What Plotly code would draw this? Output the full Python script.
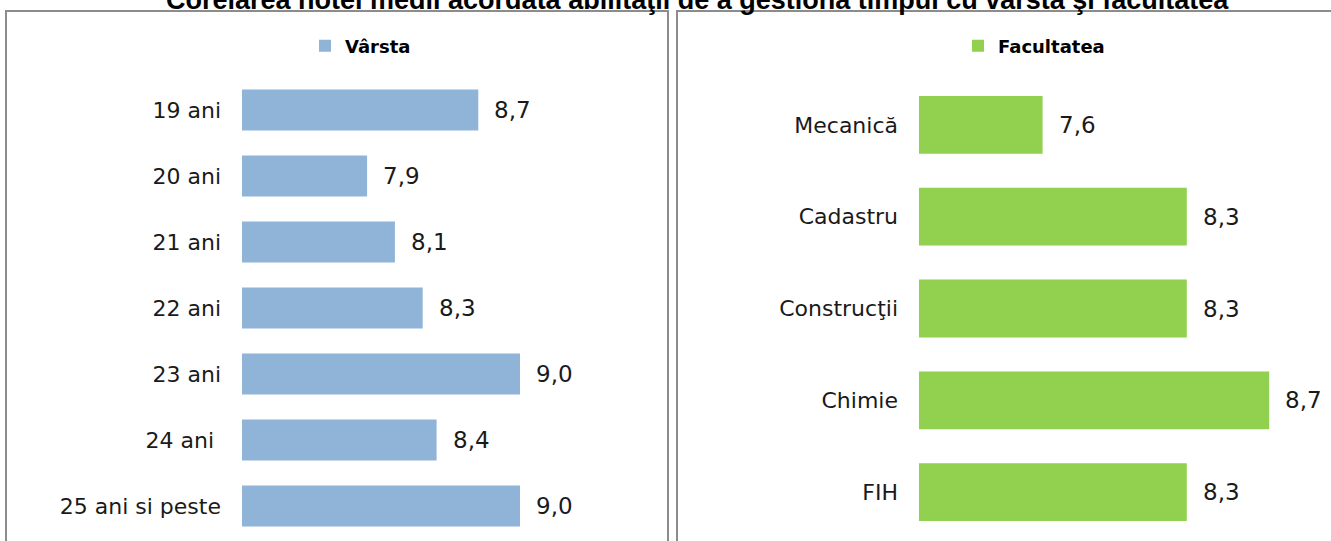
import plotly.graph_objects as go

# Data
age_labels = ["19 ani", "20 ani", "21 ani", "22 ani", "23 ani", "24 ani ", "25 ani si peste"]
age_values = [8.7, 7.9, 8.1, 8.3, 9.0, 8.4, 9.0]
fac_labels = ["Mecanică", "Cadastru", "Construcţii", "Chimie", "FIH"]
fac_values = [7.6, 8.3, 8.3, 8.7, 8.3]

title_text = "Corelarea notei medii acordată abilitaţii de a gestiona timpul cu vârsta şi facultatea"

W, H = 1331, 541
FONT = "DejaVu Sans"
BLUE = "#8FB4D8"
GREEN = "#92D050"

def px_x(p):
    return p / W

def px_y(p):
    return 1 - p / H

fig = go.Figure()

fig.add_trace(go.Bar(
    x=age_values, y=age_labels, orientation="h", name="Vârsta",
    marker=dict(color=BLUE, line=dict(width=0)), width=0.62,
    xaxis="x", yaxis="y", legend="legend", hoverinfo="x+y",
))
fig.add_trace(go.Bar(
    x=fac_values, y=fac_labels, orientation="h", name="Facultatea",
    marker=dict(color=GREEN, line=dict(width=0)), width=0.63,
    xaxis="x2", yaxis="y2", legend="legend2", hoverinfo="x+y",
))

annotations = []
for lab, v in zip(age_labels, age_values):
    annotations.append(dict(x=v, y=lab, xref="x", yref="y", text=f"{v:.1f}".replace(".", ","),
                            showarrow=False, xanchor="left", xshift=14,
                            font=dict(family=FONT, size=23, color="#1a1a1a")))
for lab, v in zip(fac_labels, fac_values):
    annotations.append(dict(x=v, y=lab, xref="x2", yref="y2", text=f"{v:.1f}".replace(".", ","),
                            showarrow=False, xanchor="left", xshift=14,
                            font=dict(family=FONT, size=23, color="#1a1a1a")))
annotations.append(dict(x=px_x(698), y=px_y(0), xref="paper", yref="paper", text=f"<b>{title_text}</b>",
                        showarrow=False, xanchor="center", yanchor="middle",
                        font=dict(family="Liberation Sans", size=27, color="#000000")))

shapes = [
    dict(type="rect", xref="paper", yref="paper", x0=px_x(6), x1=px_x(668), y0=px_y(560), y1=px_y(11),
         line=dict(color="#8C8C8C", width=2), fillcolor="rgba(0,0,0,0)", layer="below"),
    dict(type="rect", xref="paper", yref="paper", x0=px_x(677), x1=px_x(1345), y0=px_y(560), y1=px_y(11),
         line=dict(color="#8C8C8C", width=2), fillcolor="rgba(0,0,0,0)", layer="below"),
]

axis_common = dict(showgrid=False, zeroline=False, showline=False, showticklabels=False, ticks="")
ycommon = dict(showgrid=False, zeroline=False, showline=False, ticks="", autorange="reversed",
               tickfont=dict(family=FONT, size=22, color="#1a1a1a"), ticklabelstandoff=20)

fig.update_layout(
    width=W, height=H,
    margin=dict(l=0, r=0, t=0, b=0),
    paper_bgcolor="white", plot_bgcolor="white",
    showlegend=True,
    xaxis=dict(domain=[px_x(242), px_x(659)], range=[7, 10], anchor="y", **axis_common),
    yaxis=dict(domain=[px_y(539), px_y(77)], anchor="x", **ycommon),
    xaxis2=dict(domain=[px_x(919), px_x(1310.4)], range=[7, 8.9], anchor="y2", **axis_common),
    yaxis2=dict(domain=[px_y(538), px_y(79)], anchor="x2", **ycommon),
    legend=dict(x=px_x(305), y=px_y(46), xanchor="left", yanchor="middle", orientation="h",
                font=dict(family=FONT, size=18, color="#000000", weight="bold"),
                bgcolor="rgba(0,0,0,0)", itemwidth=30),
    legend2=dict(x=px_x(958), y=px_y(46), xanchor="left", yanchor="middle", orientation="h",
                 font=dict(family=FONT, size=18, color="#000000", weight="bold"),
                 bgcolor="rgba(0,0,0,0)", itemwidth=30),
    annotations=annotations,
    shapes=shapes,
)

fig.write_html("out.html", config={"displayModeBar": False},
               post_script="document.body.style.margin='0';document.body.style.padding='0';")
